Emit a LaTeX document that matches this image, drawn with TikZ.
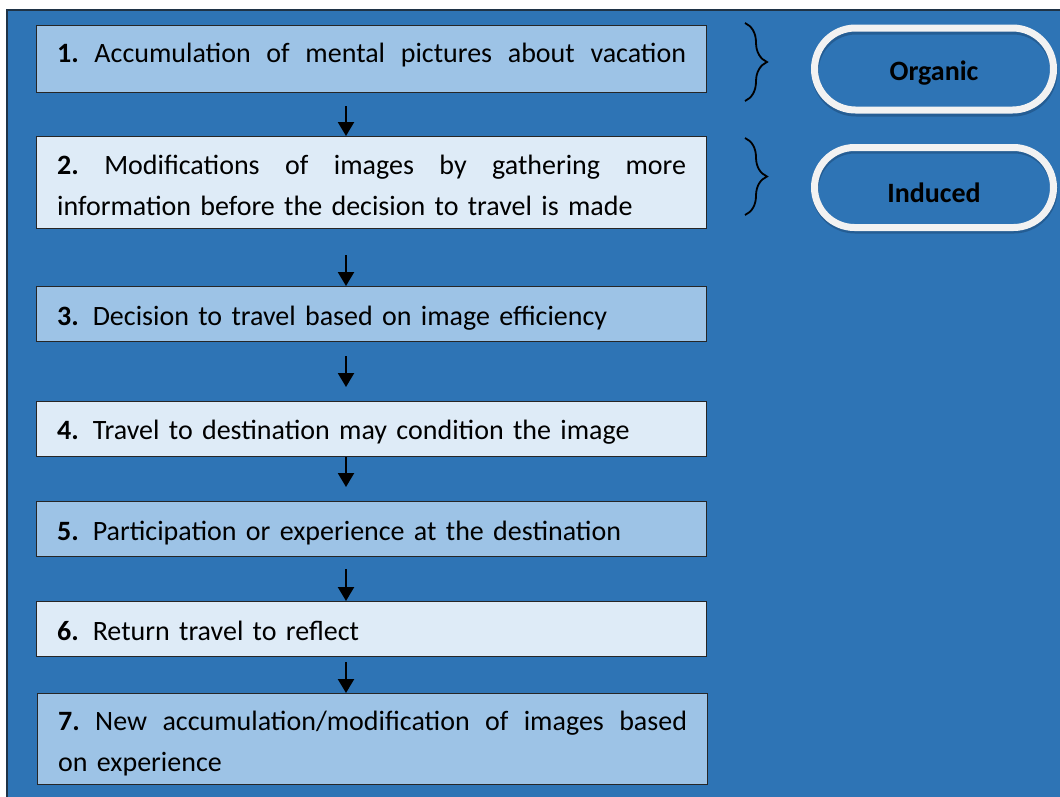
\documentclass[tikz,border=0pt]{standalone}
\usepackage{fontspec}
\setmainfont{Carlito}
\usetikzlibrary{arrows.meta,decorations.pathreplacing}
\definecolor{bgblue}{HTML}{2E74B5}
\definecolor{deepline}{HTML}{1F3346}
\definecolor{lightbox}{HTML}{9DC3E6}
\definecolor{palebox}{HTML}{DEEBF7}
\definecolor{pillwhite}{HTML}{F2F2F2}
\definecolor{pillshade}{HTML}{1E4F7E}
% a full-width line whose word spaces stretch evenly
\newcommand\spreadline[1]{\hbox to 629pt{\frenchspacing
  \spaceskip=0.22em plus 1fil\relax\xspaceskip=\spaceskip #1}}
% draw a line of text a little lower without changing its reported size
\newcommand\lowered[2]{\raisebox{-#1}[\height][\depth]{#2}}

\begin{document}
\begin{tikzpicture}[x=1pt,y=-1pt,
  stepbox/.style={draw=black!85, line width=1.2pt, minimum width=670pt,
    text width=629pt, inner xsep=20.5pt, inner ysep=0pt, align=left,
    anchor=north west, font=\fontsize{28}{41}\selectfont},
  darkstep/.style={stepbox, fill=lightbox},
  palestep/.style={stepbox, fill=palebox},
  pill/.style={draw=pillwhite, line width=7pt, rounded corners=41pt,
    minimum width=239pt, minimum height=82pt, inner sep=0pt,
    font=\fontsize{28}{32}\selectfont\bfseries},
  flow/.style={line width=2.2pt, -{Triangle[width=16pt,length=14pt]}},
  grouping/.style={line width=1.8pt, decorate,
    decoration={brace, amplitude=22pt}}]

% page and frame
\useasboundingbox (0,0) rectangle (1060,796);
\fill[white] (0,0) rectangle (1060,796);
\clip (0,0) rectangle (1060,796);
\draw[fill=bgblue, draw=deepline, line width=2.2pt] (7,10) rectangle (1070,810);

% process steps
\node[darkstep, minimum height=67pt] (s1) at (36,25)
  {\spreadline{\textbf{1.} Accumulation of mental pictures about vacation}\vspace{8pt}};
\node[palestep, minimum height=92pt] (s2) at (36,136)
  {\lowered{3pt}{\spreadline{\textbf{2.} Modifications of images by gathering more}}\\
   \lowered{3pt}{information before the decision to travel is made}};
\node[darkstep, minimum height=55pt] (s3) at (36,286)
  {\lowered{4pt}{\textbf{3.} Decision to travel based on image efficiency}};
\node[palestep, minimum height=55pt] (s4) at (36,401)
  {\lowered{3pt}{\textbf{4.} Travel to destination may condition the image}};
\node[darkstep, minimum height=55pt] (s5) at (36,501)
  {\lowered{4pt}{\textbf{5.} Participation or experience at the destination}};
\node[palestep, minimum height=55pt] (s6) at (36,601)
  {\lowered{2pt}{\textbf{6.} Return travel to reflect}};
\node[darkstep, minimum height=91pt] (s7) at (37,693)
  {\lowered{4pt}{\spreadline{\textbf{7.} New accumulation/modification of images based}}\\
   \lowered{4pt}{on experience}};

% arrows between steps
\coordinate (a1) at (346,106);
\coordinate (a2) at (346,255);
\coordinate (a3) at (346,356);
\coordinate (e3) at (346,387);
\coordinate (a4) at (346,457);
\coordinate (e4) at (346,487);
\coordinate (a5) at (346,569);
\coordinate (a6) at (346,662);
\draw[flow] (a1) -- (a1 |- s2.north);
\draw[flow] (a2) -- (a2 |- s3.north);
\draw[flow] (a3) -- (e3);
\draw[flow] (a4) -- (e4);
\draw[flow] (a5) -- (a5 |- s6.north);
\draw[flow] (a6) -- (a6 |- s7.north);

% braces
\coordinate (b1t) at (745,23);
\coordinate (b1b) at (745,101);
\coordinate (b2t) at (745,138);
\coordinate (b2b) at (745,215);
\draw[grouping] (b1t) -- (b1b);
\draw[grouping] (b2t) -- (b2b);

% image type labels
\draw[pillshade, line width=7pt, rounded corners=41pt, opacity=0.6]
  (815,31) rectangle (1054,113);
\draw[pillshade, line width=7pt, rounded corners=40pt, opacity=0.6]
  (815,150) rectangle (1054,230);
\node[pill] (organic) at (934,69) {\lowered{4pt}{Organic}};
\node[pill, minimum height=80pt, rounded corners=40pt] (induced) at (934,187.5)
  {\lowered{5pt}{Induced}};
\end{tikzpicture}
\end{document}
